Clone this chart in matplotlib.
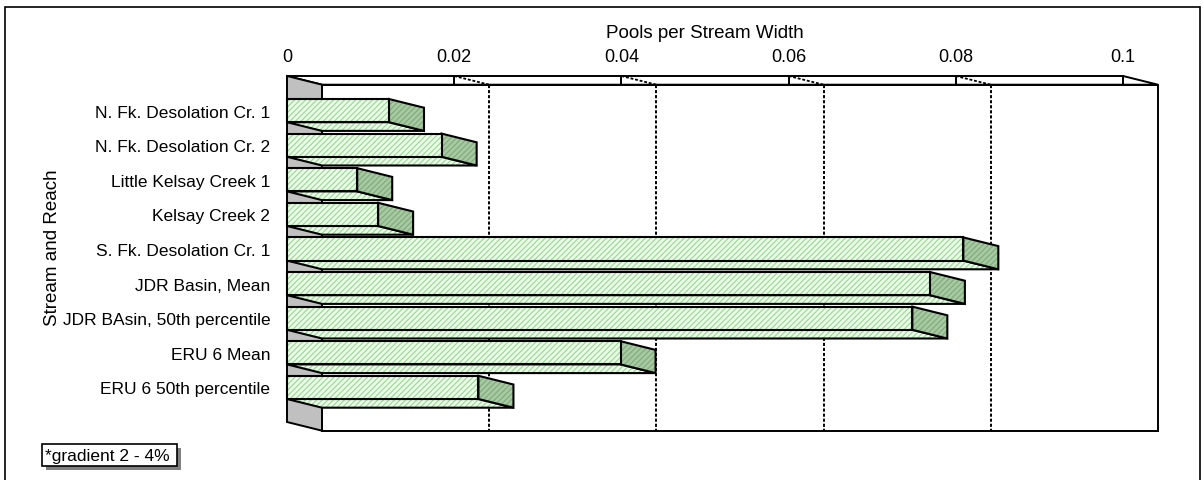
import matplotlib
matplotlib.use("Agg")
import matplotlib.pyplot as plt
from matplotlib.patches import Polygon, Rectangle

# ---- data -------------------------------------------------------------
categories = [
    "N. Fk. Desolation Cr. 1",
    "N. Fk. Desolation Cr. 2",
    "Little Kelsay Creek 1",
    "Kelsay Creek 2",
    "S. Fk. Desolation Cr. 1",
    "JDR Basin, Mean",
    "JDR BAsin, 50th percentile",
    "ERU 6 Mean",
    "ERU 6 50th percentile",
]
pools_per_width = [0.0122, 0.0185, 0.0084, 0.0109, 0.0809, 0.0769, 0.0748, 0.0399, 0.0229]
tick_values = [0, 0.02, 0.04, 0.06, 0.08, 0.1]
tick_labels = ["0", "0.02", "0.04", "0.06", "0.08", "0.1"]
x_title = "Pools per Stream Width"
y_title = "Stream and Reach"
note = "*gradient 2 - 4%"

# ---- style ------------------------------------------------------------
plt.rcParams["font.family"] = ["Liberation Sans", "DejaVu Sans"]
plt.rcParams["hatch.linewidth"] = 0.9
W, H = 1204, 481
FRONT_FACE = "#eefcea"
FRONT_HATCH = "#9bdc98"
SIDE_FACE = "#a9c9a4"
SIDE_HATCH = "#7fae7a"
WALL = "#c0c0c0"
DOTTED = (0, (1.6, 1.0))

fig = plt.figure(figsize=(W / 100, H / 100), dpi=100)
fig.patch.set_facecolor("white")

# plot area (front plane)
ax = fig.add_axes([287 / W, 1 - 423 / H, 836 / W, 346 / H])
n = len(categories)
ax.set_xlim(0, 0.1)
ax.set_ylim(n, -1)
ax.patch.set_visible(False)
for s in ax.spines.values():
    s.set_visible(False)

# 3-D depth expressed in data units (right and downward)
DX = 0.1 * 35 / 836
DY = 8.7 / 34.6
BAR_H = 0.67
top, bottom = -1, n


def poly(pts, face, hatch=None, hatch_color=None, z=1, lw=1.5):
    if hatch:
        ax.add_patch(Polygon(pts, closed=True, facecolor=face, edgecolor=hatch_color,
                             hatch=hatch, linewidth=0, zorder=z, clip_on=False))
    else:
        ax.add_patch(Polygon(pts, closed=True, facecolor=face, edgecolor="none",
                             linewidth=0, zorder=z, clip_on=False))
    ax.add_patch(Polygon(pts, closed=True, fill=False, edgecolor="black",
                         linewidth=lw, zorder=z + 0.01, clip_on=False, joinstyle="miter"))


# back wall
poly([(DX, top + DY), (0.1 + DX, top + DY), (0.1 + DX, bottom + DY), (DX, bottom + DY)],
     "white", z=1, lw=1.4)

# gridlines on top plane and back wall
for v in tick_values[1:-1]:
    ax.plot([v, v + DX], [top, top + DY], color="black", lw=1.3, ls=DOTTED,
            zorder=2.5, clip_on=False)
    ax.plot([v + DX, v + DX], [top + DY, bottom + DY], color="black", lw=1.4, ls=DOTTED,
            zorder=1.5, clip_on=False)

# top plane
ax.add_patch(Polygon([(0, top), (0.1, top), (0.1 + DX, top + DY), (DX, top + DY)],
                     closed=True, facecolor="white", edgecolor="none", zorder=2, clip_on=False))
ax.add_patch(Polygon([(0, top), (0.1, top), (0.1 + DX, top + DY), (DX, top + DY)],
                     closed=True, fill=False, edgecolor="black", lw=1.4, zorder=2.6,
                     clip_on=False))
for v in tick_values[1:]:
    ax.plot([v, v], [top, top + DY], color="black", lw=1.4, zorder=2.7, clip_on=False)

# left wall
poly([(0, top), (DX, top + DY), (DX, bottom + DY), (0, bottom)], WALL, z=3, lw=1.4)

# bars
for i, v in enumerate(pools_per_width):
    y0, y1 = i - BAR_H / 2, i + BAR_H / 2
    z = 4 + i * 0.1
    poly([(0, y1), (v, y1), (v + DX, y1 + DY), (DX, y1 + DY)],
         FRONT_FACE, "//////", FRONT_HATCH, z=z)
    poly([(v, y0), (v + DX, y0 + DY), (v + DX, y1 + DY), (v, y1)],
         SIDE_FACE, "//////", SIDE_HATCH, z=z + 0.02)
    poly([(0, y0), (v, y0), (v, y1), (0, y1)],
         FRONT_FACE, "//////", FRONT_HATCH, z=z + 0.04)

# axes text
ax.xaxis.tick_top()
ax.set_xticks(tick_values, tick_labels)
ax.set_yticks(range(n), categories)
ax.tick_params(axis="x", length=0, pad=8, labelsize=13)
ax.tick_params(axis="y", length=0, pad=12, labelsize=12.5)

fig.text(705 / W, 1 - 34 / H, x_title, ha="center", va="center", fontsize=13.5)
fig.text(53 / W, 1 - 248 / H, y_title, ha="center", va="center", rotation=90, fontsize=13.5)

# note box with drop shadow
fig.patches.append(Rectangle((46 / W, 1 - 471 / H), 135 / W, 22 / H, transform=fig.transFigure,
                             facecolor="#808080", edgecolor="none", zorder=5))
fig.patches.append(Rectangle((42 / W, 1 - 467 / H), 135 / W, 22 / H, transform=fig.transFigure,
                             facecolor="white", edgecolor="black", lw=1.2, zorder=6))
fig.text(45 / W, 1 - 456 / H, note, ha="left", va="center", fontsize=12.5, zorder=7)

# chart border
fig.patches.append(Rectangle((5 / W, -0.05), 1195 / W, 1.05 - 8 / H, transform=fig.transFigure,
                             fill=False, edgecolor="black", lw=1.2, zorder=8))

fig.savefig("out.png", dpi=100)
